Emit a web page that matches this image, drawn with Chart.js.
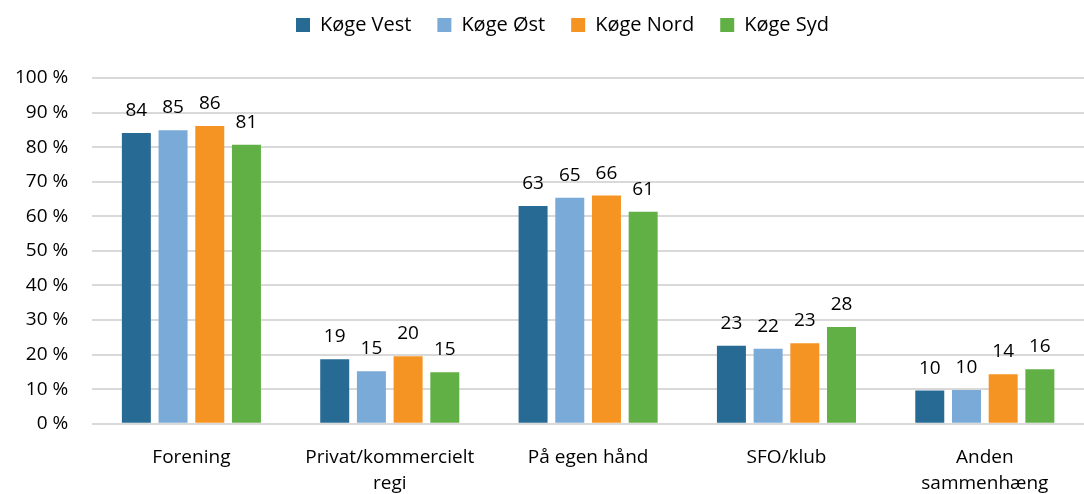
<!DOCTYPE html>
<html>
<head>
<meta charset="utf-8">
<script src="https://cdn.jsdelivr.net/npm/chart.js@4"></script>
<style>
  html, body { margin: 0; padding: 0; background: #fff; }
  #wrap { width: 1084px; height: 494px; }
</style>
</head>
<body>
<div id="wrap"><canvas id="chart" width="1084" height="494"></canvas></div>
<script>
// Categories (multi-line ones split into arrays)
const categories = [
    'Forening',
    ['Privat/kommercielt', 'regi'],
    'På egen hånd',
    'SFO/klub',
    ['Anden', 'sammenhæng']
];

// Percent values per area
const vest = [84.1, 18.7, 63.0, 22.6, 9.6];
const oest = [84.9, 15.2, 65.4, 21.7, 9.8];
const nord = [86.1, 19.5, 66.0, 23.3, 14.3];
const syd  = [80.7, 14.9, 61.3, 28.0, 15.8];

const seriesNames = ['Køge Vest', 'Køge Øst', 'Køge Nord', 'Køge Syd'];
const colors = ['#276a93', '#79aad8', '#f59422', '#60b046'];

const fontFamily = "'Open Sans', 'Noto Sans', sans-serif";

// Draw rounded value above each bar
const valueLabels = {
    id: 'valueLabels',
    afterDatasetsDraw(chart) {
        const ctx = chart.ctx;
        ctx.save();
        ctx.font = `19px ${fontFamily}`;
        ctx.fillStyle = '#000';
        ctx.textAlign = 'center';
        ctx.textBaseline = 'alphabetic';
        chart.data.datasets.forEach((ds, i) => {
            chart.getDatasetMeta(i).data.forEach((bar, j) => {
                ctx.fillText(Math.round(ds.data[j]), bar.x, bar.y - 17);
            });
        });
        ctx.restore();
    }
};

// Legend: extra gap below, and nudge items a bit to the right
const legendTweak = {
    id: 'legendTweak',
    beforeInit(chart) {
        const fit = chart.legend.fit;
        chart.legend.fit = function () {
            fit.bind(chart.legend)();
            this.height += 33;
        };
    },
    afterLayout(chart) {
        chart.legend.left += 50;
    }
};

const datasets = [vest, oest, nord, syd].map((data, i) => ({
    label: seriesNames[i],
    data,
    backgroundColor: colors[i],
    borderWidth: 0,
    categoryPercentage: 0.74,
    barPercentage: 0.79
}));

new Chart(document.getElementById('chart'), {
    type: 'bar',
    data: { labels: categories, datasets },
    options: {
        responsive: false,
        animation: false,
        layout: { padding: { left: -9, right: 0, top: -11, bottom: -15 } },
        plugins: {
            legend: {
                position: 'top',
                labels: {
                    boxWidth: 14,
                    boxHeight: 14,
                    padding: 26,
                    color: '#000',
                    font: { size: 20, family: fontFamily }
                }
            },
            tooltip: { enabled: false }
        },
        scales: {
            x: {
                grid: { display: false },
                border: { display: false },
                ticks: {
                    color: '#000',
                    padding: 12,
                    maxRotation: 0,
                    font: { size: 19, family: fontFamily, lineHeight: 1.4 }
                }
            },
            y: {
                min: 0,
                max: 100,
                ticks: {
                    stepSize: 10,
                    color: '#000',
                    padding: 24,
                    font: { size: 19, family: fontFamily },
                    callback: v => v + ' %'
                },
                grid: { color: '#d9d9d9', lineWidth: 2, drawTicks: false },
                border: { display: false }
            }
        }
    },
    plugins: [valueLabels, legendTweak]
});
</script>
</body>
</html>
